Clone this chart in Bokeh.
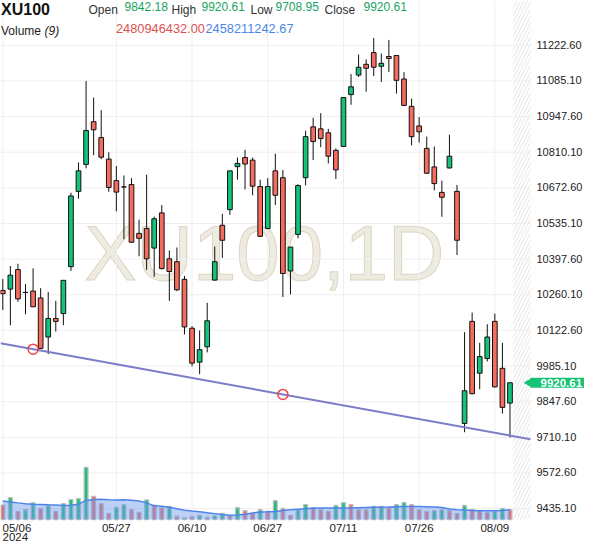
from bokeh.plotting import figure
from bokeh.models import Range1d, Label, ColumnDataSource, BoxAnnotation
from bokeh.core.properties import value
from bokeh.embed import file_html
from bokeh.resources import INLINE
import math

# ---------------- data ----------------
dates = ["05/06", "05/07", "05/08", "05/09", "05/10", "05/13", "05/14", "05/15", "05/16", "05/17",
         "05/20", "05/21", "05/22", "05/23", "05/24", "05/27", "05/28", "05/29", "05/30", "05/31",
         "06/03", "06/04", "06/05", "06/06", "06/07", "06/10", "06/11", "06/12", "06/13", "06/14",
         "06/20", "06/21", "06/24", "06/25", "06/26", "06/27", "06/28",
         "07/01", "07/02", "07/03", "07/04", "07/05", "07/08", "07/09", "07/10", "07/11", "07/12",
         "07/16", "07/17", "07/18", "07/19", "07/22", "07/23", "07/24", "07/25", "07/26",
         "07/29", "07/30", "07/31", "08/01", "08/02", "08/05", "08/06", "08/07", "08/08", "08/09",
         "08/12", "08/13"]

opens = [10276.6, 10281.9, 10357.3, 10269.1, 10274.3, 10247.9, 10097.1, 10168.7, 10187.6, 10368.6,
         10659.0, 10763.1, 10927.9, 10866.4, 10783.4, 10700.5, 10676.3, 10685.4, 10496.8, 10515.7,
         10440.3, 10576.0, 10398.8, 10387.5, 10319.6, 10131.0, 10000.2, 10059.4, 10316.9, 10528.1,
         10588.5, 10754.4, 10789.5, 10779.6, 10677.8, 10515.7, 10738.2, 10711.8, 10352.0, 10493.1,
         10711.8, 10907.9, 10900.3, 10885.2, 10817.4, 10832.4, 11032.3, 11107.7, 11149.2, 11194.5,
         11141.7, 11179.4, 11183.1, 11092.6, 10987.1, 10911.6, 10824.9, 10753.3, 10655.2, 10749.5,
         10659.0, 9763.7, 10157.4, 9957.6, 10014.1, 10157.4, 9976.4, 9842.18]
highs = [10320.7, 10370.9, 10379.9, 10301.9, 10362.2, 10285.6, 10270.6, 10236.6, 10315.8, 10653.7,
         10770.6, 11085.1, 11021.0, 10972.0, 10809.8, 10757.0, 10720.4, 10710.3, 10549.6, 10723.1,
         10562.1, 10606.2, 10431.2, 10442.5, 10333.2, 10138.6, 10122.0, 10229.1, 10446.3, 10572.2,
         10738.2, 10789.5, 10819.6, 10789.5, 10704.2, 10710.3, 10804.5, 10741.9, 10444.0, 10686.5,
         10892.8, 10942.9, 10960.7, 10900.3, 10824.9, 11021.0, 11111.5, 11186.9, 11168.1, 11251.0,
         11190.7, 11243.5, 11183.1, 11119.0, 11017.2, 10945.6, 10870.2, 10832.4, 10700.5, 10877.7,
         10683.9, 10115.9, 10191.4, 10074.5, 10146.1, 10187.6, 10074.5, 9920.61]
lows = [10201.2, 10142.4, 10232.9, 10185.0, 10212.0, 10050.3, 10031.5, 10118.2, 10142.4, 10352.0,
        10631.1, 10748.0, 10798.5, 10783.4, 10657.5, 10582.0, 10474.2, 10460.0, 10408.6, 10355.8,
        10329.4, 10358.0, 10236.6, 10274.3, 10106.9, 9984.0, 9953.8, 10037.9, 10314.0, 10402.6,
        10568.5, 10704.2, 10666.5, 10643.9, 10483.0, 10513.0, 10606.2, 10251.7, 10261.5, 10478.0,
        10681.6, 10779.6, 10829.8, 10766.8, 10706.5, 10830.0, 10993.1, 11100.2, 11043.6, 11104.0,
        11081.3, 11119.0, 11036.1, 10988.5, 10836.2, 10847.5, 10726.9, 10662.7, 10560.9, 10747.0,
        10413.9, 9729.8, 9876.0, 9895.7, 10002.8, 9902.5, 9801.5, 9708.95]
closes = [10264.2, 10335.8, 10244.2, 10269.1, 10214.0, 10053.0, 10168.7, 10157.4, 10315.8, 10641.3,
          10738.2, 10893.9, 10896.6, 10791.0, 10674.1, 10656.3, 10676.3, 10462.9, 10478.0, 10398.8,
          10553.4, 10361.1, 10349.8, 10279.2, 10135.9, 9996.4, 10048.1, 10159.7, 10387.5, 10470.4,
          10738.2, 10766.8, 10764.6, 10679.0, 10485.5, 10677.8, 10643.9, 10342.2, 10444.0, 10681.6,
          10870.2, 10851.3, 10862.6, 10794.7, 10741.9, 11021.0, 11062.5, 11137.9, 11134.1, 11137.9,
          11153.0, 11171.8, 11087.4, 10990.8, 10870.2, 10889.0, 10729.1, 10689.1, 10636.3, 10794.7,
          10470.4, 9889.7, 9878.4, 10021.7, 10097.1, 9904.8, 9825.6, 9920.61]

# volume in billions of shares, and its colour flag (1 = up / green, 0 = down / red)
volume_b = [3.65, 5.53, 2.06, 2.48, 4.22, 2.80, 3.55, 2.06, 4.04, 5.04,
            5.28, 13.22, 5.88, 4.04, 1.56, 3.05, 3.80, 2.48, 1.81, 4.96,
            3.65, 2.98, 3.30, 0.82, 0.40, 0.70, 1.07, 0.57, 0.92, 1.56,
            0.92, 2.98, 2.23, 1.56, 2.48, 2.06, 4.79, 2.80, 1.07, 2.48,
            3.80, 2.98, 2.48, 2.06, 3.55, 4.29, 3.80, 2.48, 2.48, 3.30,
            3.30, 2.98, 3.80, 4.29, 3.80, 2.48, 2.06, 2.23, 2.48, 2.23,
            1.56, 3.55, 2.48, 2.23, 1.81, 2.06, 2.80, 2.480946432]
volume_up = [0, 1, 0, 1, 1, 0, 1, 0, 1, 1,
             1, 1, 0, 0, 0, 1, 1, 0, 0, 1,
             0, 0, 1, 0, 0, 0, 1, 0, 1, 1,
             0, 1, 0, 0, 1, 0, 1, 0, 0, 1,
             1, 0, 0, 0, 1, 1, 0, 0, 0, 1,
             1, 0, 1, 1, 0, 0, 0, 1, 1, 0,
             0, 1, 0, 0, 0, 1, 1, 0]
# 9-period volume moving average (billions)
vol_ma_b = [4.71, 4.47, 4.22, 4.02, 3.90, 3.82, 3.72, 3.65, 3.57, 3.60,
            3.90, 4.84, 5.09, 5.14, 5.04, 4.96, 5.04, 4.91, 4.71, 4.22,
            3.47, 3.35, 3.10, 2.73, 2.36, 2.16, 1.98, 1.74, 1.49, 1.24,
            1.07, 1.17, 1.36, 1.66, 1.91, 1.98, 2.06, 2.28, 2.48, 2.63,
            2.73, 2.83, 2.90, 2.90, 2.90, 2.90, 2.90, 2.98, 3.03, 3.08,
            3.13, 3.15, 3.23, 3.30, 3.30, 3.27, 3.23, 3.15, 3.05, 2.65,
            2.48, 2.38, 2.31, 2.23, 2.23, 2.23, 2.28, 2.45821124267]

y_ticks = [9435.10, 9572.60, 9710.10, 9847.60, 9985.10, 10122.60, 10260.10,
           10397.60, 10535.10, 10672.60, 10810.10, 10947.60, 11085.10, 11222.60]
x_tick_labels = ["05/27", "06/10", "06/27", "07/11", "07/26", "08/09"]
first_label, year_label = "05/06", "2024"

# trend line drawn through two anchor points (index, price)
trend_idx = [4, 37]
trend_price = [10050.3, 9875.7]

symbol = "XU100"
watermark = "XU100,1D"
ma_period = 9

# ---------------- layout ----------------
FONT = "Liberation Sans"
W, H = 584, 542            # whole figure = plot frame
CW, CH = 530, 519          # price/volume pane inside it (px)
SY = CH / 531.0


def fy(ry):                # reference px -> figure px (vertical)
    return ry * SY


n = len(dates)
idx = list(range(n))
x_start = -2.3 / 7.57
x_chart_end = (530 - 2.3) / 7.57
price_lo, price_hi = 9393.05, 11395.45
vol_hi = 131.74


def px_to_x(px):
    return x_start + px / CW * (x_chart_end - x_start)


def py_to_price(py):
    return price_hi - py / CH * (price_hi - price_lo)


def sy(py):                # screen units measured up from the frame bottom
    return H - py


GREEN = "#14c27a"
RED = "#f56b5e"
GREEN_T = "#18a35f"
RED_T = "#de5050"
BLUE_T = "#4a86e6"
GRID = "#eeeeee"

p = figure(width=W, height=H,
           x_range=Range1d(x_start, px_to_x(W)),
           y_range=Range1d(py_to_price(H), price_hi),
           x_axis_location=None, y_axis_location=None,
           output_backend="svg", toolbar_location=None,
           min_border_left=0, min_border_right=0, min_border_top=0, min_border_bottom=0)
p.extra_y_ranges = {"vol": Range1d(-vol_hi * (H - CH) / CH, vol_hi)}
p.outline_line_color = None
p.background_fill_color = "white"
p.border_fill_color = "white"
p.xgrid.visible = False
p.ygrid.visible = False

# grid lines (only over the chart pane)
x_tick_idx = [dates.index(d) for d in x_tick_labels]
grid_x = [dates.index(first_label)] + x_tick_idx
p.segment(x0=grid_x, x1=grid_x, y0=[price_lo] * len(grid_x), y1=[price_hi] * len(grid_x),
          line_color=GRID, line_width=1)
p.segment(x0=[x_start] * len(y_ticks), x1=[x_chart_end] * len(y_ticks), y0=y_ticks, y1=y_ticks,
          line_color=GRID, line_width=1)

# future (hatched) zone
p.add_layout(BoxAnnotation(left=n - 1 + 0.46, right=x_chart_end, bottom=price_lo,
                           fill_alpha=0, line_color=None,
                           hatch_pattern="/", hatch_color="#e4e4e4", hatch_scale=7,
                           hatch_weight=1, level="underlay"))

# watermark
p.add_layout(Label(x=264, y=sy(fy(258.5)), x_units="screen", y_units="screen",
                   text=watermark, text_font=FONT, text_font_size="78px",
                   text_color="#eeebe1", text_outline_color="#dcd5c3",
                   text_align="center", text_baseline="middle", level="underlay"))

# volume
vsrc = ColumnDataSource(dict(x=idx, v=volume_b,
                             c=[GREEN if u else RED for u in volume_up]))
p.vbar(x="x", top="v", bottom=0, width=0.5, source=vsrc, y_range_name="vol",
       fill_color="c", line_color="#bdbdbd", line_width=1.3)
p.varea(x=idx, y1=[0] * n, y2=vol_ma_b, y_range_name="vol",
        fill_color="#6d9af0", fill_alpha=0.45)
p.line(idx, vol_ma_b, y_range_name="vol", line_color="#4d84ea", line_width=1.5)

# candles
csrc = ColumnDataSource(dict(
    x=idx, o=opens, h=highs, l=lows, c=closes,
    top=[max(o, c) for o, c in zip(opens, closes)],
    bot=[min(o, c) for o, c in zip(opens, closes)],
    col=[GREEN if c >= o else RED for o, c in zip(opens, closes)]))
p.segment(x0="x", y0="l", x1="x", y1="h", source=csrc, line_color="#111111", line_width=1)
p.vbar(x="x", top="top", bottom="bot", width=0.62, source=csrc,
       fill_color="col", line_color="#111111", line_width=1)

# trend line through the two anchors, extended across the pane
grad = (trend_price[1] - trend_price[0]) / (trend_idx[1] - trend_idx[0])
icpt = trend_price[0] - grad * trend_idx[0]
p.segment(x0=[x_start], y0=[icpt + grad * x_start],
          x1=[x_chart_end], y1=[icpt + grad * x_chart_end],
          line_color="#7c7cc8", line_width=2)
p.scatter(trend_idx, trend_price, marker="circle", size=10, fill_alpha=0,
          line_color="#ef4545", line_width=1.5)

# price scale labels (right)
p.text(x=[px_to_x(536)] * len(y_ticks), y=y_ticks,
       text=[f"{t:.2f}" for t in y_ticks], text_font=value(FONT),
       text_font_size=value("11px"), text_color="#222222",
       text_align="left", text_baseline="middle", y_offset=-0.5)

# date labels (bottom)
date_mid = CH + 8
p.text(x=x_tick_idx, y=[py_to_price(date_mid)] * len(x_tick_idx), text=x_tick_labels,
       text_font=value(FONT), text_font_size=value("11.5px"), text_color="#222222",
       text_align="center", text_baseline="middle")
p.text(x=[px_to_x(2)] * 2, y=[py_to_price(date_mid), py_to_price(date_mid + 9)],
       text=[first_label, year_label],
       text_font=value(FONT), text_font_size=value("11.5px"), text_color="#222222",
       text_align="left", text_baseline="middle")

# last price tag
TAG = "#16c274"
p.scatter([px_to_x(528.5)], [closes[-1]], marker="triangle", angle=math.pi / 2,
          size=8, fill_color=TAG, line_color=TAG)
p.add_layout(Label(x=530, y=closes[-1], x_units="screen", y_units="data",
                   text=f"{closes[-1]:.2f}", text_font=FONT, text_font_size="11.5px",
                   text_font_style="bold", text_color="white", text_baseline="middle",
                   background_fill_color=TAG,
                   padding=dict(left=10, right=3, top=1, bottom=1)))


def lab(text, x, ref_mid, size, color, style="normal"):
    p.add_layout(Label(x=x, y=sy(fy(ref_mid) + 1), x_units="screen", y_units="screen",
                       text=text, text_font=FONT, text_font_size=f"{size}px",
                       text_color=color, text_font_style=style,
                       text_align="left", text_baseline="middle"))


# header legend
lab(symbol, 0.5, 7.7, 16, "#111111", "bold")
lab("Open", 88, 8.7, 12, "#333333")
lab(f"{opens[-1]:.2f}", 124, 5.5, 12, GREEN_T)
lab("High", 171, 8.7, 12, "#333333")
lab(f"{highs[-1]:.2f}", 201, 5.5, 12, GREEN_T)
lab("Low", 250, 8.7, 12, "#333333")
lab(f"{lows[-1]:.2f}", 275, 5.5, 12, GREEN_T)
lab("Close", 324, 8.7, 12, "#333333")
lab(f"{closes[-1]:.2f}", 363, 5.5, 12, GREEN_T)
lab("Volume", 0.5, 30.5, 12, "#222222")
lab(f"({ma_period})", 44, 30.5, 12, "#222222", "italic")
lab(f"{volume_b[-1] * 1e9:.2f}", 115.5, 27.2, 12.8, RED_T)
lab(f"{vol_ma_b[-1] * 1e9:.2f}", 205, 27.2, 12.8, BLUE_T)

open("out.html", "w").write(file_html(p, INLINE))
